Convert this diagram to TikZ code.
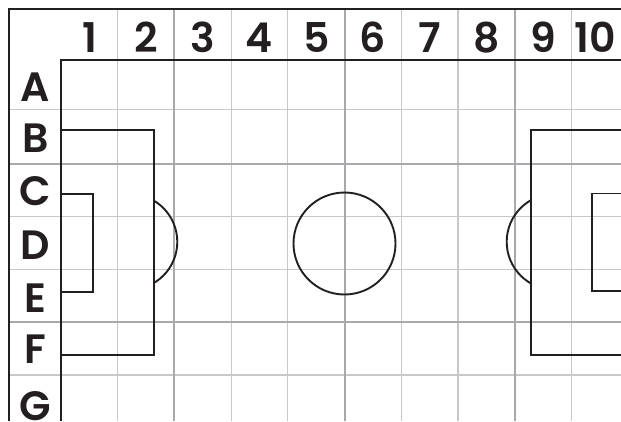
\documentclass[tikz,border=0pt]{standalone}
\usepackage{fontspec}
\setmainfont{Poppins}[BoldFont={Poppins SemiBold}]
\definecolor{ink}{HTML}{231F20}
\definecolor{minorgray}{HTML}{C8C8C8}
\definecolor{majorgray}{HTML}{A9A9AD}
\tikzset{
  minorline/.style={draw=minorgray,line width=1.2pt},
  majorline/.style={draw=majorgray,line width=2pt},
  frameline/.style={draw=ink,line width=2.5pt},
  pitchline/.style={draw=ink,line width=1.9pt},
  lbl/.style={font=\fontsize{41}{41}\selectfont\bfseries,text=ink,anchor=base,inner sep=0pt}
}
\begin{document}
\begin{tikzpicture}[x=1pt,y=-1pt]
\useasboundingbox (0,0) rectangle (621,421);
\fill[white] (0,0) rectangle (621,421);
% grid
\foreach \y in {109.5,216.7,269.3,375} \draw[minorline] (9,\y) -- (621,\y);
\foreach \x in {117.7,231.1,287.8,401.2,457.9,571.3} \draw[minorline] (\x,9) -- (\x,421);
\foreach \y in {164,322.3} \draw[majorline] (9,\y) -- (621,\y);
\foreach \x in {174.4,344.5,514.6} \draw[majorline] (\x,9) -- (\x,421);
% frames
\draw[frameline] (9,421) -- (9,9) -- (621,9);
\draw[frameline] (61,421) -- (61,60) -- (621,60);
% left end
\draw[pitchline] (61,130) -- (154,130) -- (154,355) -- (61,355);
\draw[pitchline] (61,194) -- (92.7,194) -- (92.7,292) -- (61,292);
\begin{scope}
\clip (154,150) rectangle (220,340);
\draw[pitchline] (129.4,241.8) circle[radius=47.9];
\end{scope}
% right end
\draw[pitchline] (625,130) -- (530.7,130) -- (530.7,355) -- (625,355);
\draw[pitchline] (625,193.5) -- (591.7,193.5) -- (591.7,291) -- (625,291);
\begin{scope}
\clip (470,150) rectangle (530.7,340);
\draw[pitchline] (554.6,241.8) circle[radius=47.9];
\end{scope}
% centre circle
\draw[pitchline] (344.5,243.5) circle[radius=51];
% column labels
\node[lbl] (n1) at (89.5,52.3) {1};
\node[lbl] (n2) at (146,52.3) {2};
\node[lbl] (n3) at (202.8,52.3) {3};
\node[lbl] (n4) at (259.5,52.3) {4};
\node[lbl] (n5) at (316.2,52.3) {5};
\node[lbl] (n6) at (372.9,52.3) {6};
\node[lbl] (n7) at (429.6,52.3) {7};
\node[lbl] (n8) at (486.3,52.3) {8};
\node[lbl] (n9) at (543,52.3) {9};
\node[lbl] (n10) at (595.5,52.3) {10};
% row labels
\node[lbl] (rA) at (35.5,101) {A};
\node[lbl] (rB) at (35.5,152) {B};
\node[lbl] (rC) at (35.5,205) {C};
\node[lbl] (rD) at (35.5,259) {D};
\node[lbl] (rE) at (35.5,312) {E};
\node[lbl] (rF) at (35.5,363) {F};
\node[lbl] (rG) at (35.5,420) {G};
\end{tikzpicture}
\end{document}
